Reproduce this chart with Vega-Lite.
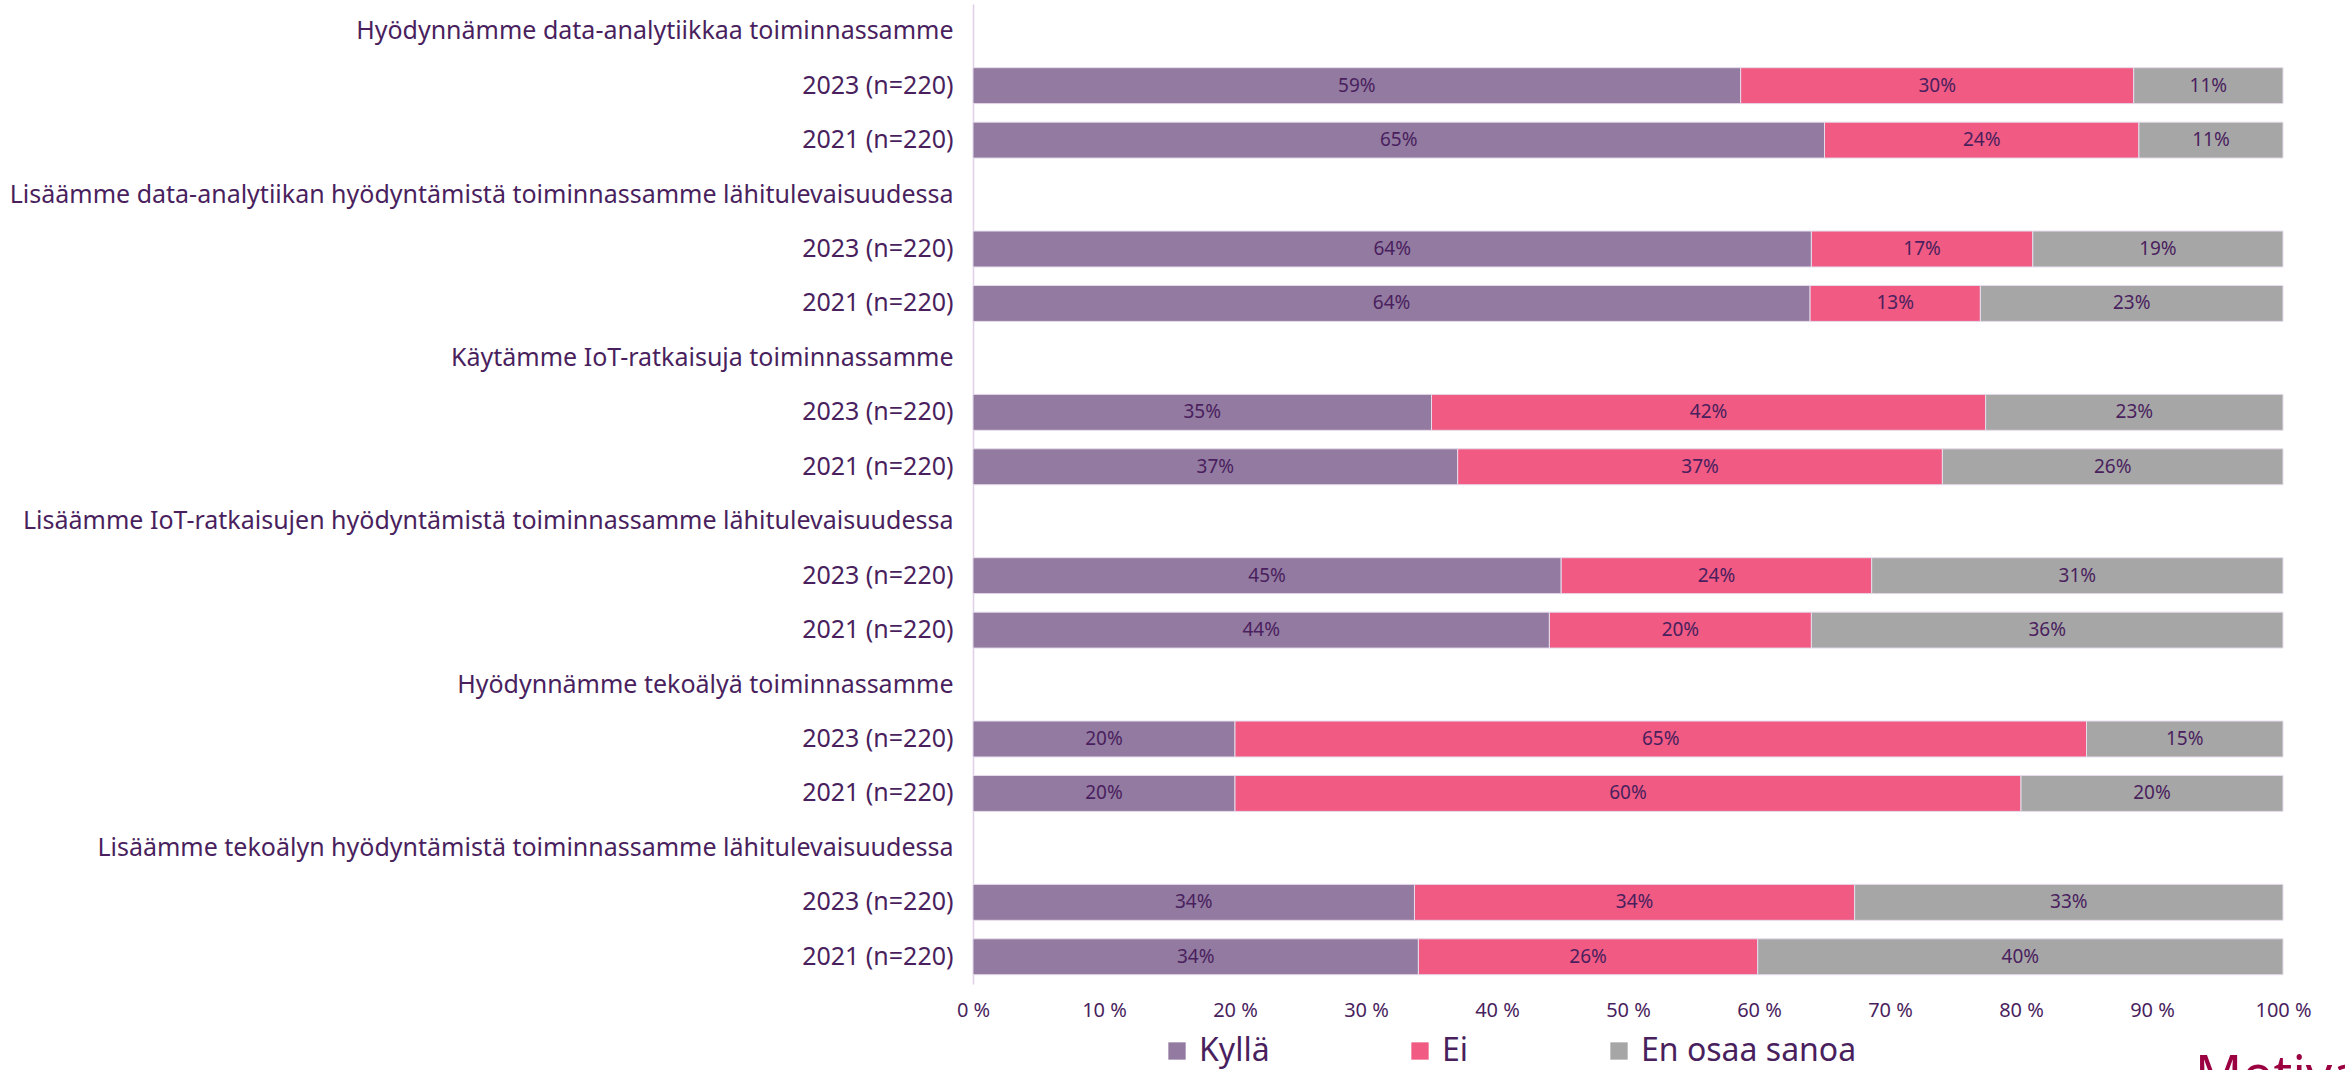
{
  "$schema": "https://vega.github.io/schema/vega-lite/v6.json",
  "width": 1310,
  "height": 980,
  "autosize": {"type": "none"},
  "padding": {"left": 973, "top": 4, "right": 62, "bottom": 86},
  "background": "white",
  "config": {"view": {"stroke": null}, "font": "Noto Sans"},
  "title": {"text": "Motiva", "orient": "bottom", "anchor": "start", "frame": "group", "dx": 1222, "offset": -15, "fontSize": 52, "fontWeight": "normal", "color": "#9b0040", "baseline": "top"},
  "data": {
    "values": [
      {"row": "2023 (n=220)|1", "cat": "Kyllä", "o": 1, "value": 0.586},
      {"row": "2023 (n=220)|1", "cat": "Ei", "o": 2, "value": 0.300},
      {"row": "2023 (n=220)|1", "cat": "En osaa sanoa", "o": 3, "value": 0.114},
      {"row": "2021 (n=220)|1", "cat": "Kyllä", "o": 1, "value": 0.650},
      {"row": "2021 (n=220)|1", "cat": "Ei", "o": 2, "value": 0.240},
      {"row": "2021 (n=220)|1", "cat": "En osaa sanoa", "o": 3, "value": 0.110},
      {"row": "2023 (n=220)|2", "cat": "Kyllä", "o": 1, "value": 0.640},
      {"row": "2023 (n=220)|2", "cat": "Ei", "o": 2, "value": 0.169},
      {"row": "2023 (n=220)|2", "cat": "En osaa sanoa", "o": 3, "value": 0.191},
      {"row": "2021 (n=220)|2", "cat": "Kyllä", "o": 1, "value": 0.639},
      {"row": "2021 (n=220)|2", "cat": "Ei", "o": 2, "value": 0.130},
      {"row": "2021 (n=220)|2", "cat": "En osaa sanoa", "o": 3, "value": 0.231},
      {"row": "2023 (n=220)|3", "cat": "Kyllä", "o": 1, "value": 0.350},
      {"row": "2023 (n=220)|3", "cat": "Ei", "o": 2, "value": 0.423},
      {"row": "2023 (n=220)|3", "cat": "En osaa sanoa", "o": 3, "value": 0.227},
      {"row": "2021 (n=220)|3", "cat": "Kyllä", "o": 1, "value": 0.370},
      {"row": "2021 (n=220)|3", "cat": "Ei", "o": 2, "value": 0.370},
      {"row": "2021 (n=220)|3", "cat": "En osaa sanoa", "o": 3, "value": 0.260},
      {"row": "2023 (n=220)|4", "cat": "Kyllä", "o": 1, "value": 0.449},
      {"row": "2023 (n=220)|4", "cat": "Ei", "o": 2, "value": 0.237},
      {"row": "2023 (n=220)|4", "cat": "En osaa sanoa", "o": 3, "value": 0.314},
      {"row": "2021 (n=220)|4", "cat": "Kyllä", "o": 1, "value": 0.440},
      {"row": "2021 (n=220)|4", "cat": "Ei", "o": 2, "value": 0.200},
      {"row": "2021 (n=220)|4", "cat": "En osaa sanoa", "o": 3, "value": 0.360},
      {"row": "2023 (n=220)|5", "cat": "Kyllä", "o": 1, "value": 0.200},
      {"row": "2023 (n=220)|5", "cat": "Ei", "o": 2, "value": 0.650},
      {"row": "2023 (n=220)|5", "cat": "En osaa sanoa", "o": 3, "value": 0.150},
      {"row": "2021 (n=220)|5", "cat": "Kyllä", "o": 1, "value": 0.200},
      {"row": "2021 (n=220)|5", "cat": "Ei", "o": 2, "value": 0.600},
      {"row": "2021 (n=220)|5", "cat": "En osaa sanoa", "o": 3, "value": 0.200},
      {"row": "2023 (n=220)|6", "cat": "Kyllä", "o": 1, "value": 0.337},
      {"row": "2023 (n=220)|6", "cat": "Ei", "o": 2, "value": 0.336},
      {"row": "2023 (n=220)|6", "cat": "En osaa sanoa", "o": 3, "value": 0.327},
      {"row": "2021 (n=220)|6", "cat": "Kyllä", "o": 1, "value": 0.340},
      {"row": "2021 (n=220)|6", "cat": "Ei", "o": 2, "value": 0.259},
      {"row": "2021 (n=220)|6", "cat": "En osaa sanoa", "o": 3, "value": 0.401}
    ]
  },
  "transform": [
    {"stack": "value", "groupby": ["row"], "sort": [{"field": "o", "order": "ascending"}], "as": ["x0", "x1"]},
    {"calculate": "(datum.x0 + datum.x1) / 2", "as": "mid"}
  ],
  "encoding": {
    "y": {
      "field": "row",
      "type": "nominal",
      "scale": {
        "domain": [
          "Hyödynnämme data-analytiikkaa toiminnassamme", "2023 (n=220)|1", "2021 (n=220)|1",
          "Lisäämme data-analytiikan hyödyntämistä toiminnassamme lähitulevaisuudessa", "2023 (n=220)|2", "2021 (n=220)|2",
          "Käytämme IoT-ratkaisuja toiminnassamme", "2023 (n=220)|3", "2021 (n=220)|3",
          "Lisäämme IoT-ratkaisujen hyödyntämistä toiminnassamme lähitulevaisuudessa", "2023 (n=220)|4", "2021 (n=220)|4",
          "Hyödynnämme tekoälyä toiminnassamme", "2023 (n=220)|5", "2021 (n=220)|5",
          "Lisäämme tekoälyn hyödyntämistä toiminnassamme lähitulevaisuudessa", "2023 (n=220)|6", "2021 (n=220)|6"
        ],
        "paddingInner": 0.34,
        "paddingOuter": 0.17
      },
      "axis": {
        "title": null,
        "ticks": false,
        "grid": false,
        "domainColor": "#ddd0e8",
        "domainWidth": 1.5,
        "labelExpr": "split(datum.value, '|')[0]",
        "labelFontSize": 25,
        "labelColor": "#4a1f5e",
        "labelPadding": 20,
        "labelLimit": 1000
      }
    }
  },
  "layer": [
    {
      "mark": {"type": "bar", "stroke": "#e6dcec", "strokeWidth": 1},
      "encoding": {
        "x": {
          "field": "x0",
          "type": "quantitative",
          "scale": {"domain": [0, 1], "nice": false},
          "axis": {
            "title": null,
            "domain": false,
            "ticks": false,
            "grid": false,
            "values": [0, 0.1, 0.2, 0.3, 0.4, 0.5, 0.6, 0.7, 0.8, 0.9, 1],
            "labelExpr": "replace(format(datum.value, '.0%'), '%', ' %')",
            "labelFontSize": 20,
            "labelColor": "#4a1f5e",
            "labelPadding": 16,
            "labelFlush": false
          }
        },
        "x2": {"field": "x1"},
        "color": {
          "field": "cat",
          "type": "nominal",
          "scale": {"domain": ["Kyllä", "Ei", "En osaa sanoa"], "range": ["#927aa0", "#f05a83", "#a6a6a6"]},
          "legend": {
            "title": null,
            "orient": "none",
            "legendX": 188,
            "legendY": 1031,
            "direction": "horizontal",
            "symbolType": "square",
            "symbolSize": 300,
            "symbolStrokeWidth": 0,
            "labelFontSize": 32,
            "labelColor": "#4a1f5e",
            "labelOffset": 6,
            "labelLimit": 500,
            "columnPadding": 134
          }
        }
      }
    },
    {
      "mark": {"type": "text", "fontSize": 19, "color": "#4a1f5e"},
      "encoding": {
        "x": {"field": "mid", "type": "quantitative"},
        "text": {"field": "value", "type": "quantitative", "format": ".0%"}
      }
    }
  ]
}
